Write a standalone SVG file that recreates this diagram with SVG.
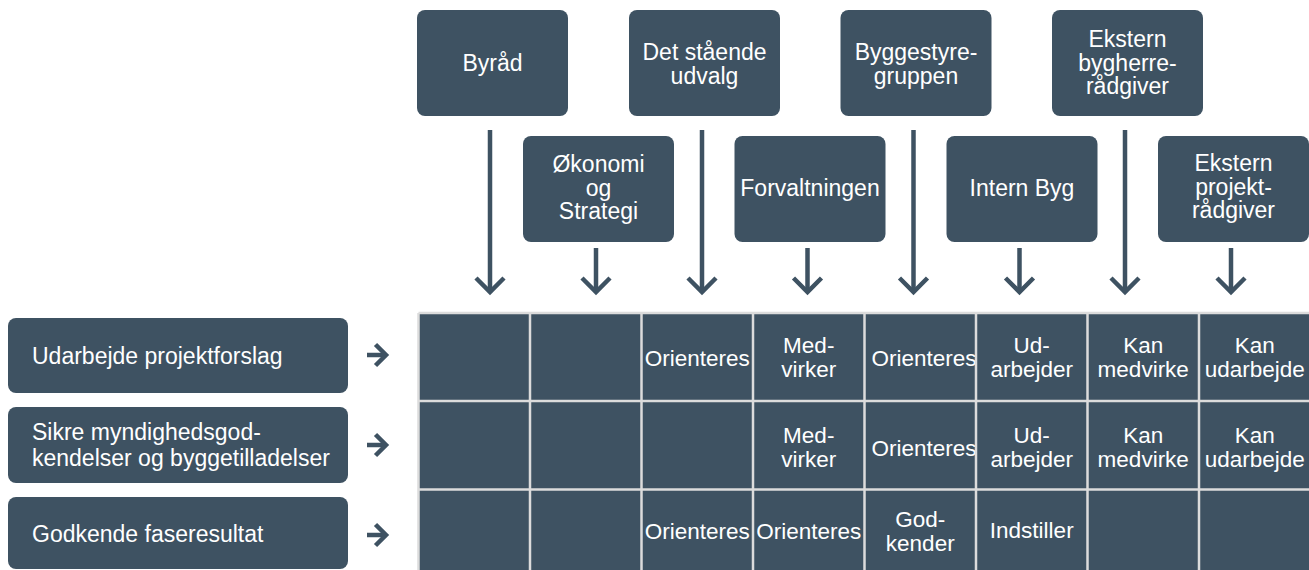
<svg xmlns="http://www.w3.org/2000/svg" width="1309" height="570" viewBox="0 0 1309 570">
  <defs>
    <style>
      .box { fill: #3e5262; }
      .cell { fill: #3e5262; }
      .grid { stroke: #dcdcdc; stroke-width: 2.5; fill: none; }
      .t { fill: #ffffff; font-family: "Liberation Sans", Arial, Helvetica, sans-serif; font-size: 23px; }
      .m { font-size: 22.5px; }
      .c { text-anchor: middle; }
      .conn { stroke: #3e5262; stroke-width: 4.5; fill: none; }
      .head { stroke: #3e5262; stroke-width: 4.5; fill: none; stroke-linejoin: miter; }
    </style>
    <marker id="chev" markerUnits="userSpaceOnUse" orient="auto" refX="0" refY="0" markerWidth="40" markerHeight="40" overflow="visible">
      <path class="head" d="M-14,-14 L0,0 L-14,14"/>
    </marker>
    <marker id="chev-s" markerUnits="userSpaceOnUse" orient="auto" refX="0" refY="0" markerWidth="30" markerHeight="30" overflow="visible">
      <path class="head" d="M-10.5,-10.5 L0,0 L-10.5,10.5"/>
    </marker>
  </defs>

  <!-- upper row of parties -->
  <g id="byraad">
    <rect class="box" x="417" y="10" width="151" height="106" rx="8"/>
    <text class="t c" x="492.5" y="71">Byråd</text>
  </g>
  <g id="staaende-udvalg">
    <rect class="box" x="629" y="10" width="151" height="106" rx="8"/>
    <text class="t c" x="704.5" y="60">Det stående</text>
    <text class="t c" x="704.5" y="84">udvalg</text>
  </g>
  <g id="byggestyregruppen">
    <rect class="box" x="840.5" y="10" width="151" height="106" rx="8"/>
    <text class="t c" x="916" y="60">Byggestyre-</text>
    <text class="t c" x="916" y="84">gruppen</text>
  </g>
  <g id="ekstern-bygherreraadgiver">
    <rect class="box" x="1052" y="10" width="151" height="106" rx="8"/>
    <text class="t c" x="1127.5" y="47">Ekstern</text>
    <text class="t c" x="1127.5" y="70.5">bygherre-</text>
    <text class="t c" x="1127.5" y="94">rådgiver</text>
  </g>

  <!-- lower row of parties -->
  <g id="oekonomi-strategi">
    <rect class="box" x="523" y="136" width="151" height="106" rx="8"/>
    <text class="t c" x="598.5" y="172">Økonomi</text>
    <text class="t c" x="598.5" y="195.5">og</text>
    <text class="t c" x="598.5" y="219">Strategi</text>
  </g>
  <g id="forvaltningen">
    <rect class="box" x="734.5" y="136" width="151" height="106" rx="8"/>
    <text class="t c" x="810" y="196">Forvaltningen</text>
  </g>
  <g id="intern-byg">
    <rect class="box" x="946.5" y="136" width="151" height="106" rx="8"/>
    <text class="t c" x="1022" y="196">Intern Byg</text>
  </g>
  <g id="ekstern-projektraadgiver">
    <rect class="box" x="1158" y="136" width="151" height="106" rx="8"/>
    <text class="t c" x="1233.5" y="171">Ekstern</text>
    <text class="t c" x="1233.5" y="194.5">projekt-</text>
    <text class="t c" x="1233.5" y="218">rådgiver</text>
  </g>

  <!-- phase tasks -->
  <g id="udarbejde-projektforslag">
    <rect class="box" x="8" y="318" width="340" height="75" rx="8"/>
    <text class="t" x="32" y="364">Udarbejde projektforslag</text>
  </g>
  <g id="sikre-godkendelser">
    <rect class="box" x="8" y="407" width="340" height="76" rx="8"/>
    <text class="t" x="32" y="440">Sikre myndighedsgod-</text>
    <text class="t" x="32" y="466">kendelser og byggetilladelser</text>
  </g>
  <g id="godkende-faseresultat">
    <rect class="box" x="8" y="497" width="340" height="72" rx="8"/>
    <text class="t" x="32" y="542">Godkende faseresultat</text>
  </g>

  <!-- responsibility matrix -->
  <g id="matrix">
    <rect class="cell" x="418.5" y="313" width="892" height="265"/>
    <g id="row-1">
      <text class="t m c" x="697.25" y="365.5">Orienteres</text>
      <text class="t m c" x="808.75" y="353">Med-</text>
      <text class="t m c" x="808.75" y="377">virker</text>
      <text class="t m c" x="924" y="365.5">Orienteres</text>
      <text class="t m c" x="1031.75" y="353">Ud-</text>
      <text class="t m c" x="1031.75" y="377">arbejder</text>
      <text class="t m c" x="1143.25" y="353">Kan</text>
      <text class="t m c" x="1143.25" y="377">medvirke</text>
      <text class="t m c" x="1254.75" y="353">Kan</text>
      <text class="t m c" x="1254.75" y="377">udarbejde</text>
    </g>
    <g id="row-2">
      <text class="t m c" x="808.75" y="443">Med-</text>
      <text class="t m c" x="808.75" y="467">virker</text>
      <text class="t m c" x="924" y="456">Orienteres</text>
      <text class="t m c" x="1031.75" y="443">Ud-</text>
      <text class="t m c" x="1031.75" y="467">arbejder</text>
      <text class="t m c" x="1143.25" y="443">Kan</text>
      <text class="t m c" x="1143.25" y="467">medvirke</text>
      <text class="t m c" x="1254.75" y="443">Kan</text>
      <text class="t m c" x="1254.75" y="467">udarbejde</text>
    </g>
    <g id="row-3">
      <text class="t m c" x="697.25" y="539">Orienteres</text>
      <text class="t m c" x="808.75" y="539">Orienteres</text>
      <text class="t m c" x="920.25" y="527">God-</text>
      <text class="t m c" x="920.25" y="551">kender</text>
      <text class="t m c" x="1031.75" y="538">Indstiller</text>
    </g>
    <path class="grid" d="M418.5,313 H1311 M418.5,401 H1311 M418.5,489.5 H1311
      M418.5,313 V572 M530,313 V572 M641.5,313 V572 M753,313 V572 M864.5,313 V572
      M976,313 V572 M1087.5,313 V572 M1199,313 V572"/>
  </g>

  <!-- connectors -->
  <g id="connectors">
    <path class="conn" d="M490,130 V292" marker-end="url(#chev)"/>
    <path class="conn" d="M596,248 V292" marker-end="url(#chev)"/>
    <path class="conn" d="M702,130 V292" marker-end="url(#chev)"/>
    <path class="conn" d="M807.5,248 V292" marker-end="url(#chev)"/>
    <path class="conn" d="M913.5,130 V292" marker-end="url(#chev)"/>
    <path class="conn" d="M1019.5,248 V292" marker-end="url(#chev)"/>
    <path class="conn" d="M1125,130 V292" marker-end="url(#chev)"/>
    <path class="conn" d="M1231,248 V292" marker-end="url(#chev)"/>
    <path class="conn" d="M367,355 H386" marker-end="url(#chev-s)"/>
    <path class="conn" d="M367,445 H386" marker-end="url(#chev-s)"/>
    <path class="conn" d="M367,535 H386" marker-end="url(#chev-s)"/>
  </g>
</svg>
